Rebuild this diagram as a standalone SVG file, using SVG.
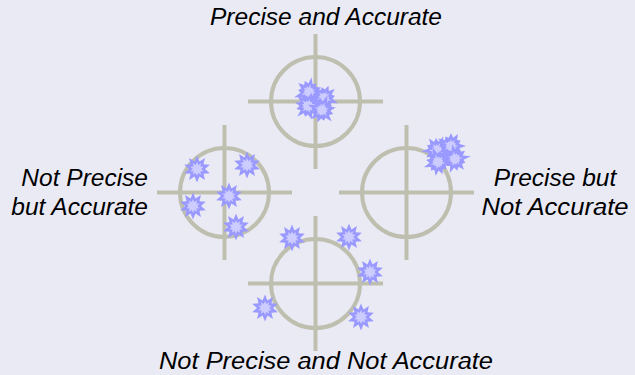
<svg xmlns="http://www.w3.org/2000/svg" xmlns:xlink="http://www.w3.org/1999/xlink" width="635" height="375" viewBox="0 0 635 375">
<style>
.ln{stroke:#BFBFB0;stroke-width:4;fill:none}
.lbl{font-family:"Liberation Sans",Arial,sans-serif;font-style:italic;font-size:24.5px;fill:#000}
.o{fill:#9999FF}
.i{fill:#CCCCFF}
</style>
<defs>
<polygon id="star" points="0,-13.5 2.47,-7.61 7.94,-10.92 6.47,-4.7 12.84,-4.17 8,0 12.84,4.17 6.47,4.7 7.94,10.92 2.47,7.61 0,13.5 -2.47,7.61 -7.94,10.92 -6.47,4.7 -12.84,4.17 -8,0 -12.84,-4.17 -6.47,-4.7 -7.94,-10.92 -2.47,-7.61"/>
<polygon id="burst" points="14,0 8.21,2.2 9.53,5.5 6.01,6.01 7.5,12.99 2.2,8.21 0,12 -2.2,8.21 -6.5,11.26 -6.01,6.01 -13.86,8 -8.21,2.2 -11,0 -8.21,-2.2 -12.12,-7 -6.01,-6.01 -6,-10.39 -2.2,-8.21 0,-15 2.2,-8.21 5.5,-9.53 6.01,-6.01 11.26,-6.5 8.21,-2.2"/>
<g id="s"><use xlink:href="#star" class="o"/><use xlink:href="#star" class="i" transform="scale(0.52)"/></g>
<g id="b"><use xlink:href="#burst" class="o"/><use xlink:href="#burst" class="i" transform="scale(0.5)"/></g>
</defs>
<rect width="635" height="375" fill="#EAEAF5"/>
<g id="connectors">
<path class="ln" d="M248,101.5H383M315.5,34V169"/>
<path class="ln" d="M157,192.5H292M224.5,125V260"/>
<path class="ln" d="M339,192.5H474M406.5,125V260"/>
<path class="ln" d="M248,283.5H383M315.5,216V351"/>
</g>
<g id="target-top"><circle class="ln" cx="315.5" cy="101.5" r="44.5"/></g>
<g id="target-left"><circle class="ln" cx="224.5" cy="192.5" r="44.5"/></g>
<g id="target-right"><circle class="ln" cx="406.5" cy="192.5" r="44.5"/></g>
<g id="target-bottom"><circle class="ln" cx="315.5" cy="283.5" r="44.5"/></g>
<g id="hits-top">
<use xlink:href="#b" transform="translate(309,92) rotate(10)"/>
<use xlink:href="#b" transform="translate(324,98) rotate(-40)"/>
<use xlink:href="#b" transform="translate(308,106) rotate(75)"/>
<use xlink:href="#b" transform="translate(322,110) rotate(140)"/>
</g>
<g id="hits-right">
<use xlink:href="#b" transform="translate(437,150) rotate(25)"/>
<use xlink:href="#b" transform="translate(451,146) rotate(-60)"/>
<use xlink:href="#b" transform="translate(438,162) rotate(100)"/>
<use xlink:href="#b" transform="translate(455,159) rotate(200)"/>
</g>
<g id="hits-left">
<use xlink:href="#s" transform="translate(197,169)"/>
<use xlink:href="#s" transform="translate(247,165)"/>
<use xlink:href="#s" transform="translate(229,196)"/>
<use xlink:href="#s" transform="translate(193,206)"/>
<use xlink:href="#s" transform="translate(236,227)"/>
</g>
<g id="hits-bottom">
<use xlink:href="#s" transform="translate(292,238)"/>
<use xlink:href="#s" transform="translate(349,237)"/>
<use xlink:href="#s" transform="translate(370,272)"/>
<use xlink:href="#s" transform="translate(265,308)"/>
<use xlink:href="#s" transform="translate(361,317)"/>
</g>
<g id="labels">
<text class="lbl" x="326" y="25" text-anchor="middle">Precise and Accurate</text>
<text class="lbl" x="148" y="186" text-anchor="end">Not Precise</text>
<text class="lbl" x="148" y="215" text-anchor="end">but Accurate</text>
<text class="lbl" x="555" y="186" text-anchor="middle">Precise but</text>
<text class="lbl" x="555" y="215" text-anchor="middle" textLength="147" lengthAdjust="spacingAndGlyphs">Not Accurate</text>
<text class="lbl" x="326" y="369" text-anchor="middle" textLength="334" lengthAdjust="spacingAndGlyphs">Not Precise and Not Accurate</text>
</g>
</svg>
